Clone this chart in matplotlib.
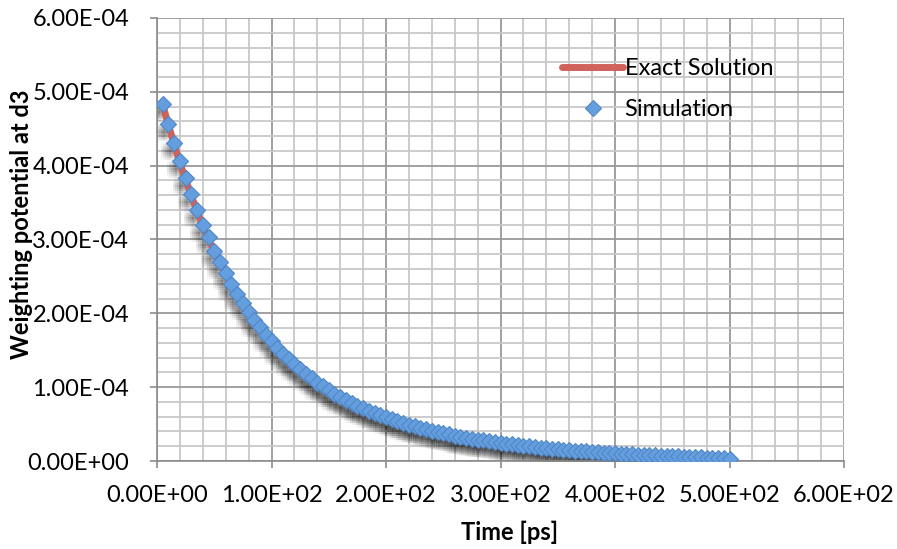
import matplotlib
matplotlib.use("Agg")
import matplotlib.pyplot as plt
from matplotlib.ticker import MultipleLocator, FuncFormatter
import matplotlib.transforms as mtransforms

# ---- data ----
time_ps = [5 * i for i in range(1, 101)]
simulation = [
    4.84, 4.57, 4.31, 4.06, 3.83, 3.61, 3.40, 3.20, 3.03, 2.85,
    2.69, 2.54, 2.40, 2.26, 2.14, 2.02, 1.91, 1.81, 1.71, 1.62,
    1.53, 1.45, 1.38, 1.31, 1.24, 1.18, 1.12, 1.06, 1.01, 0.96,
    0.91, 0.87, 0.83, 0.79, 0.75, 0.72, 0.68, 0.65, 0.62, 0.59,
    0.565, 0.54, 0.515, 0.49, 0.47, 0.45, 0.43, 0.41, 0.39, 0.375,
    0.36, 0.345, 0.33, 0.315, 0.30, 0.29, 0.28, 0.265, 0.255, 0.245,
    0.235, 0.225, 0.215, 0.205, 0.20, 0.19, 0.18, 0.175, 0.165, 0.16,
    0.155, 0.145, 0.14, 0.135, 0.13, 0.125, 0.12, 0.115, 0.11, 0.105,
    0.10, 0.095, 0.09, 0.088, 0.085, 0.08, 0.077, 0.073, 0.07, 0.066,
    0.062, 0.058, 0.055, 0.052, 0.048, 0.045, 0.042, 0.038, 0.035, 0.032,
]
simulation = [v * 1e-4 for v in simulation]
exact_solution = [
    4.82, 4.55, 4.29, 4.04, 3.81, 3.59, 3.38, 3.18, 3.01, 2.83,
    2.67, 2.52, 2.38, 2.24, 2.12, 2.00, 1.89, 1.79, 1.69, 1.60,
    1.51, 1.43, 1.36, 1.29, 1.22, 1.16, 1.10, 1.04, 0.99, 0.94,
    0.89, 0.85, 0.81, 0.77, 0.73, 0.70, 0.66, 0.63, 0.60, 0.57,
    0.545, 0.52, 0.495, 0.47, 0.45, 0.43, 0.41, 0.39, 0.37, 0.355,
    0.34, 0.325, 0.31, 0.295, 0.28, 0.27, 0.26, 0.245, 0.235, 0.225,
    0.215, 0.205, 0.195, 0.185, 0.18, 0.17, 0.16, 0.155, 0.145, 0.14,
    0.135, 0.125, 0.12, 0.115, 0.11, 0.105, 0.10, 0.095, 0.09, 0.085,
    0.08, 0.075, 0.07, 0.068, 0.065, 0.06, 0.057, 0.053, 0.05, 0.046,
    0.042, 0.038, 0.035, 0.032, 0.028, 0.025, 0.022, 0.018, 0.015, 0.012,
]
exact_solution = [v * 1e-4 for v in exact_solution]
x_label = 'Time [ps]'
y_label = 'Weighting potential at d3'

plt.rcParams['font.family'] = ['Lato', 'DejaVu Sans']

W, H = 897, 549
fig = plt.figure(figsize=(W / 100, H / 100), dpi=100)
ax = fig.add_axes([157 / W, 1 - 461 / H, (844 - 157) / W, (461 - 18) / H])

ax.set_xlim(0, 600)
ax.set_ylim(0, 6e-4)
ax.xaxis.set_major_locator(MultipleLocator(100))
ax.xaxis.set_minor_locator(MultipleLocator(20))
ax.yaxis.set_major_locator(MultipleLocator(1e-4))
ax.yaxis.set_minor_locator(MultipleLocator(2e-5))

def sci(v, pos):
    if abs(v) < 1e-12:
        return "0.00E+00"
    return "%.2E" % v

ax.xaxis.set_major_formatter(FuncFormatter(sci))
ax.yaxis.set_major_formatter(FuncFormatter(sci))

ax.grid(which='minor', color='#c8c8c8', linewidth=1.3, zorder=0)
ax.grid(which='major', color='#999999', linewidth=1.3, zorder=0)
ax.set_axisbelow(True)

for side in ['left', 'bottom']:
    ax.spines[side].set_color('#8c8c8c')
    ax.spines[side].set_linewidth(1.2)
for side in ['top', 'right']:
    ax.spines[side].set_visible(False)

ax.tick_params(which='major', direction='out', length=5, width=1.2, color='#8c8c8c',
               labelsize=17)
ax.tick_params(which='minor', length=0)
ax.tick_params(axis='x', pad=12)
ax.tick_params(axis='y', pad=15)

# soft drop shadow under the simulation markers
for dx in range(-8, 1, 2):
    for dy in range(-12, -3, 2):
        tr = mtransforms.offset_copy(ax.transData, fig=fig, x=dx, y=dy, units='dots')
        ax.plot(time_ps, simulation, linestyle='none', marker='s', markersize=7,
                color='black', alpha=0.022, markeredgewidth=0, transform=tr, zorder=1)

ax.plot(time_ps, exact_solution, color='#cf625b', linewidth=5, solid_capstyle='round',
        zorder=2, label='Exact Solution')
ax.plot(time_ps, simulation, linestyle='none', marker='D', markersize=8,
        markerfacecolor='#659ede', markeredgecolor='#4f86c6', markeredgewidth=0.8,
        zorder=3, label='Simulation')

leg = ax.legend(loc='upper left', bbox_to_anchor=((562 - 157) / (844 - 157), (461 - 58) / (461 - 18)),
                frameon=False, fontsize=17, handlelength=2.6, handletextpad=0.05,
                labelspacing=0.85, borderaxespad=0, borderpad=0)

fig.text(510 / W, 1 - 532 / H, x_label, fontsize=17, fontweight='bold',
         ha='center', va='center')
fig.text(22 / W, 1 - 224 / H, y_label, fontsize=17, fontweight='bold',
         ha='center', va='center', rotation=90)

fig.savefig('out.png', dpi=100)
